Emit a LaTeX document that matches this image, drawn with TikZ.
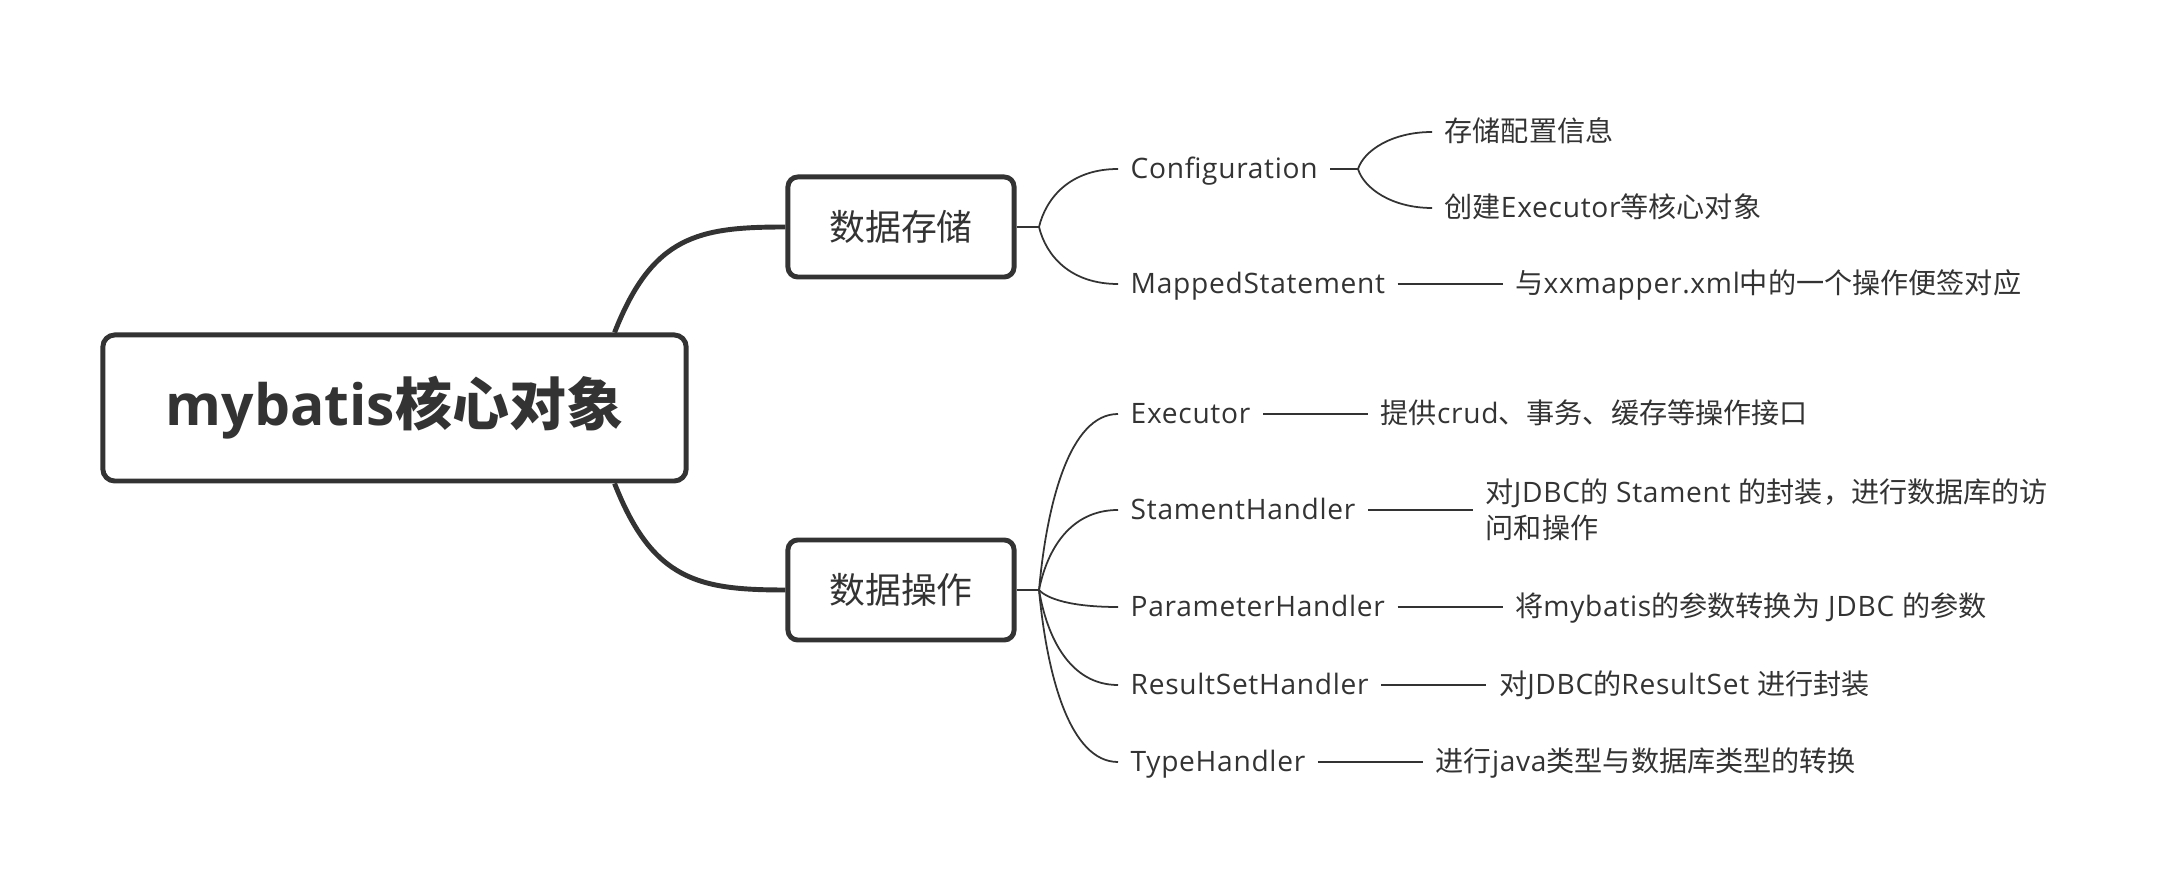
\documentclass[tikz,border=0pt]{standalone}
\usepackage{fontspec}
\setmainfont{Open Sans}[LetterSpace=2.5]
\newfontfamily\titlefont{Open Sans}
\newfontfamily\cjkfont{Noto Sans CJK SC}
\usetikzlibrary{positioning}
% Han characters are set in the CJK font
\XeTeXinterchartokenstate=1
\newXeTeXintercharclass\hanclass
\newcount\hancount
\hancount="4E00
\loop
  \XeTeXcharclass\hancount=\hanclass
  \advance\hancount by 1
\ifnum\hancount<"A000 \repeat
\XeTeXcharclass"3001=\hanclass
\XeTeXcharclass"FF0C=\hanclass
\XeTeXinterchartoks 0 \hanclass = {\begingroup\cjkfont}
\XeTeXinterchartoks 4095 \hanclass = {\begingroup\cjkfont}
\XeTeXinterchartoks \hanclass 0 = {\endgroup}
\XeTeXinterchartoks \hanclass 4095 = {\endgroup}
\definecolor{inkgray}{HTML}{333333}
\tikzset{
  root/.style     = {draw=inkgray, line width=1.4pt, rounded corners=3.4pt, fill=white,
                     minimum width=5.83cm, minimum height=1.46cm, text=inkgray,
                     font=\titlefont\fontsize{16.2}{19}\selectfont\bfseries},
  topic/.style    = {draw=inkgray, line width=1.4pt, rounded corners=2.8pt, fill=white,
                     minimum width=2.26cm, minimum height=1cm, text=inkgray,
                     font=\fontsize{10.2}{12}\selectfont},
  leafbase/.style = {anchor=west, inner xsep=0.12cm, inner ysep=1pt, text=inkgray,
                     font=\fontsize{8}{10.2}\selectfont},
  leaf/.style     = {leafbase, text height=7pt, text depth=1.4pt},
  leafpar/.style  = {leafbase, align=left},
  trunk/.style    = {draw=inkgray, line width=1.4pt},
  twig/.style     = {draw=inkgray, line width=0.5pt},
}
\begin{document}
\begin{tikzpicture}[x=0.01cm, y=-0.01cm]
  \useasboundingbox (0,0) rectangle (2176,892);
  % central topic and the two main branches
  \node[root]  (core)  at (394.5,408) {mybatis核心对象};
  \node[topic] (store) at (901,227)   {数据存储};
  \node[topic] (oper)  at (901,590)   {数据操作};
  \draw[trunk] ([xshift=-0.74cm]core.north east) .. controls +(38,-97) and +(-87,0) .. (store.west);
  \draw[trunk] ([xshift=-0.74cm]core.south east) .. controls +(38,97) and +(-87,0) .. (oper.west);

  % data storage
  \coordinate (storefork) at (1039,227);
  \draw[twig] (store.east) -- (storefork);
  \foreach \name/\y/\txt in {cfg/169/Configuration, mst/284/MappedStatement} {
    \node[leaf] (\name) at (1118,\y) {\txt};
    \draw[twig] (storefork) .. controls (1046,{227+0.5*(\y-227)}) and (1070,\y) .. (\name.west);
  }
  \coordinate (cfgfork) at (1358,169);
  \draw[twig] (cfg.east) -- (cfgfork);
  \foreach \name/\y/\txt in {cfg-a/132/存储配置信息, cfg-b/208/创建Executor等核心对象} {
    \node[leaf] (\name) at (1432,\y) {\txt};
    \draw[twig] (cfgfork) .. controls (1364,{169+0.5*(\y-169)}) and (1392,\y) .. (\name.west);
  }
  \node[leaf, right=1.05cm of mst] (mst-d) {与xxmapper.xml中的一个操作便签对应};
  \draw[twig] (mst) -- (mst-d);

  % data operations
  \coordinate (operfork) at (1039,590);
  \draw[twig] (oper.east) -- (operfork);
  \foreach \name/\y/\txt in {exe/414/Executor, sth/510/StamentHandler, pah/607/ParameterHandler,
                             rsh/685/ResultSetHandler, tyh/762/TypeHandler} {
    \node[leaf] (\name) at (1118,\y) {\txt};
    \draw[twig] (operfork) .. controls (1047,{590+0.5*(\y-590)}) and (1070,\y) .. (\name.west);
  }
  \node[leaf, right=1.05cm of exe] (exe-d) {提供crud、事务、缓存等操作接口};
  \node[leafpar, right=1.05cm of sth] (sth-d) {对JDBC的 Stament 的封装，进行数据库的访\\问和操作};
  \node[leaf, right=1.05cm of pah] (pah-d) {将mybatis的参数转换为 JDBC 的参数};
  \node[leaf, right=1.05cm of rsh] (rsh-d) {对JDBC的ResultSet 进行封装};
  \node[leaf, right=1.05cm of tyh] (tyh-d) {进行java类型与数据库类型的转换};
  \foreach \a in {exe, sth, pah, rsh, tyh}
    \draw[twig] (\a) -- (\a-d);
\end{tikzpicture}
\end{document}
